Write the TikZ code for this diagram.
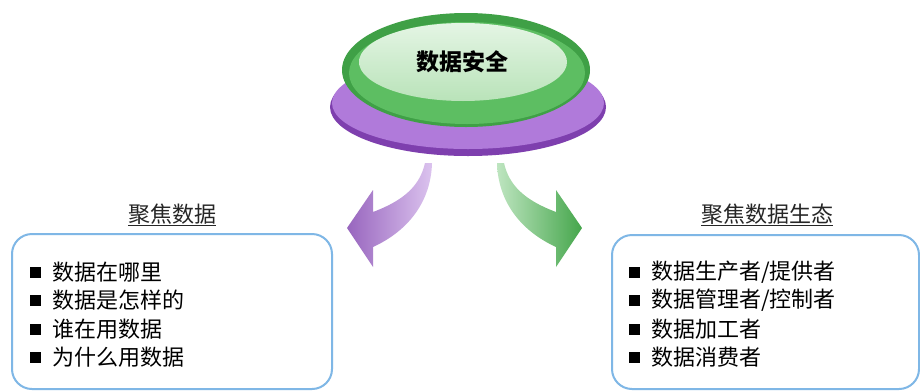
\documentclass[tikz,border=0pt]{standalone}
\usepackage{fontspec}
\newfontfamily\cjk{Noto Sans CJK SC}
\begin{document}
\begin{tikzpicture}[x=1pt,y=-1pt,
  box/.style={draw=boxblue,line width=2pt,rounded corners=20pt},
  title/.style={font=\cjk\fontsize{22}{26}\selectfont,text=black!85},
  item/.style={font=\cjk\fontsize{22}{26}\selectfont,anchor=west,inner sep=0pt},
  bul/.style={fill=black,minimum size=11pt,inner sep=0pt},
]
\definecolor{boxblue}{HTML}{7FB7E6}
\definecolor{pdark}{HTML}{7E3FAE}
\definecolor{pmid}{HTML}{B07ADA}
\definecolor{gdark}{HTML}{3FA046}
\definecolor{gmid}{HTML}{5DBE62}
\definecolor{glight}{HTML}{E4F5E4}
\definecolor{glight2}{HTML}{B9E3B9}
\useasboundingbox (0,0) rectangle (920,391);
\fill[white] (0,0) rectangle (920,391);
% disk
\fill[pdark] (468,107) ellipse [x radius=138, y radius=49];
\fill[pmid] (468,103) ellipse [x radius=136, y radius=46];
\fill[gdark] (466,70) ellipse [x radius=124, y radius=57];
\fill[gmid] (467,73) ellipse [x radius=118, y radius=51];
\shade[top color=glight,bottom color=glight2] (463,62) ellipse [x radius=104, y radius=39];
\node[font=\cjk\bfseries\fontsize{23}{26}\selectfont] (top) at (462,62) {数据安全};
% arrows
\shade[left color=pdark!80,right color=pmid!45]
  (425,163) -- (432,163)
  .. controls (431,200) and (410,230) .. (373,247)
  -- (373,267) -- (347,228) -- (373,190) -- (373,212)
  .. controls (405,200) and (420,185) .. cycle;
\begin{scope}[xshift=929,xscale=-1]
\shade[left color=gmid!40,right color=gdark!80!gmid]
  (425,163) -- (432,163)
  .. controls (431,200) and (410,230) .. (373,247)
  -- (373,267) -- (347,228) -- (373,190) -- (373,212)
  .. controls (405,200) and (420,185) .. cycle;
\end{scope}
% left box
\draw[box] (12,234) rectangle (332,389);
\node[title] (lt) at (172,215) {\underline{聚焦数据}};
\foreach \t [count=\i] in {数据在哪里,数据是怎样的,谁在用数据,为什么用数据}{
  \node[bul] (lb\i) at (35,{272+28.5*(\i-1)}) {};
  \node[item] (li\i) at (52,{272+28.5*(\i-1)}) {\t};
}
% right box
\draw[box] (612,235) rectangle (919,389);
\node[title] (rt) at (767,215) {\underline{聚焦数据生态}};
\foreach \t [count=\i] in {数据生产者/提供者,数据管理者/控制者,数据加工者,数据消费者}{
  \node[bul] (rb\i) at (634,{272+28.5*(\i-1)}) {};
  \node[item] (ri\i) at (651,{272+28.5*(\i-1)}) {\t};
}
\end{tikzpicture}
\end{document}
